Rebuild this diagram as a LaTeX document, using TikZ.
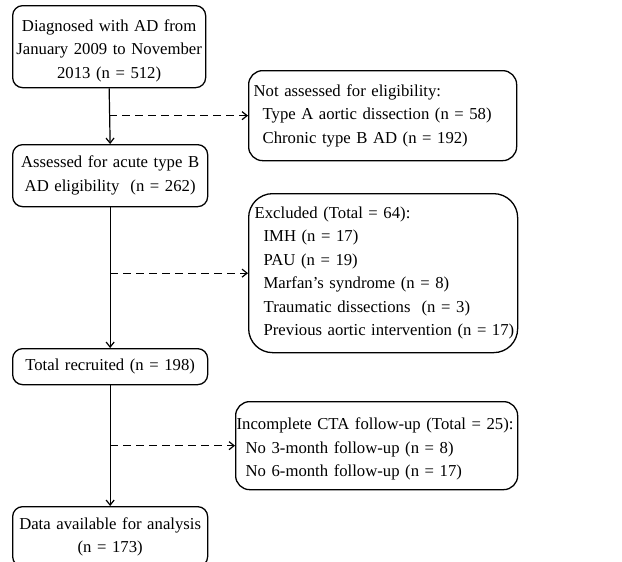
\documentclass[tikz,border=0pt]{standalone}
\usepackage{fontspec}
\setmainfont{Liberation Serif}
\usetikzlibrary{arrows.meta}
\tikzset{%
  flowbox/.style={draw,rounded corners=10pt,line width=1.3pt,anchor=north west,
    inner sep=3pt,align=center,font=\fontsize{16.7}{23.5}\selectfont},
  sidebox/.style={flowbox,rounded corners=#1,align=left},
  sidebox/.default=14pt,
  mainline/.style={line width=1.2pt,-{Straight Barb[length=5pt,width=8pt]}},
  sidearrow/.style={mainline,dash pattern=on 8pt off 5pt}
}
\newcommand{\ind}{\hspace*{9pt}}

\begin{document}
\begin{tikzpicture}[x=1pt,y=-1pt]
  \useasboundingbox (0,0) rectangle (622,562);
  % main column
  \node[flowbox,minimum width=193pt,minimum height=82pt,text width=187pt] (diag) at (12,5)
    {\rule{0pt}{20pt}Diagnosed with AD from\\January 2009 to November\\2013 (n = 512)};
  \node[flowbox,minimum width=195pt,minimum height=62pt,text width=189pt] (assess) at (12,144)
    {Assessed for acute type B\\AD eligibility\ \ (n = 262)};
  \node[flowbox,minimum width=195pt,minimum height=36pt,text width=189pt] (recruit) at (12,348)
    {Total recruited (n = 198)};
  \node[flowbox,minimum width=195pt,minimum height=60pt,text width=193pt,inner sep=1pt] (data) at (12,506)
    {Data available for analysis\\(n = 173)};
  % side boxes
  \node[sidebox,minimum width=268pt,minimum height=90pt,text width=258pt,inner xsep=5pt] (notassess) at (248,70)
    {Not assessed for eligibility:\\\ind Type A aortic dissection (n = 58)\\\ind Chronic type B AD (n = 192)};
  \node[sidebox=24pt,minimum width=269pt,minimum height=159pt,text width=257pt,inner xsep=6pt] (excl) at (248,193)
    {Excluded (Total = 64):\\\ind IMH (n = 17)\\\ind PAU (n = 19)\\\ind Marfan’s syndrome (n = 8)\\
     \ind Traumatic dissections\ \ (n = 3)\\\mbox{\ind Previous aortic intervention (n = 17)}};
  \node[sidebox,minimum width=282pt,minimum height=88pt,text width=280pt,inner xsep=1pt] (incomp) at (235,401)
    {\rule{0pt}{19pt}\mbox{Incomplete CTA follow-up (Total = 25):}\\\ind No 3-month follow-up (n = 8)\\\ind No 6-month follow-up (n = 17)};
  % connectors
  \draw[mainline] (diag.south) -- (assess.north);
  \draw[mainline] (assess.south) -- (recruit.north);
  \draw[mainline] (recruit.south) -- (data.north);
  \draw[sidearrow] (diag.south |- notassess.west) -- (notassess.west);
  \draw[sidearrow] (assess.south |- excl.west) -- (excl.west);
  \draw[sidearrow] (recruit.south |- incomp.west) -- (incomp.west);
\end{tikzpicture}
\end{document}
